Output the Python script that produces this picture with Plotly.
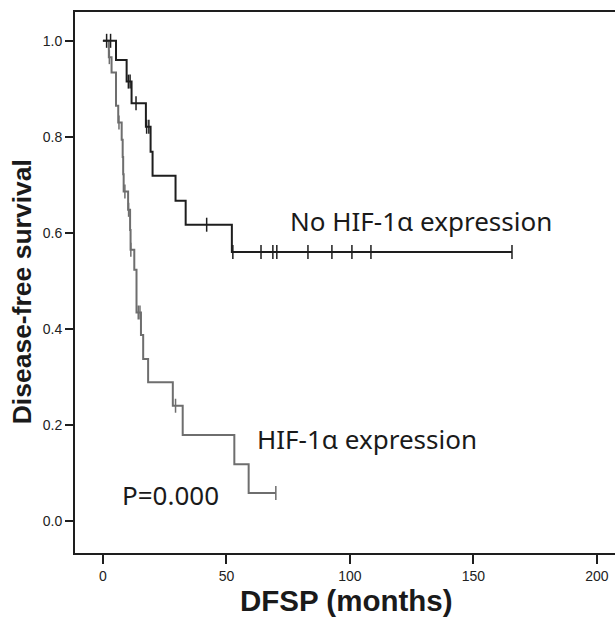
import plotly.graph_objects as go

# No HIF-1α expression group (black)
nohif_time = [0, 5.3, 9.6, 11.6, 17.4, 19.3, 20.1, 29.4, 33.5, 52.2, 165.6]
nohif_surv = [1.0, 0.960, 0.915, 0.870, 0.821, 0.769, 0.719, 0.667, 0.617, 0.560, 0.560]
nohif_cens_time = [1.5, 3.1, 10.3, 11.0, 13.4, 17.7, 18.6, 42.0, 52.6, 64.0, 68.8, 70.4, 83.0, 92.7, 100.8, 108.5, 165.6]
nohif_cens_surv = [1.0, 1.0, 0.915, 0.915, 0.870, 0.821, 0.821, 0.617, 0.560, 0.560, 0.560, 0.560, 0.560, 0.560, 0.560, 0.560, 0.560]

# HIF-1α expression group (gray)
hif_time = [0, 2.4, 3.5, 5.3, 6.2, 7.6, 8.0, 8.2, 8.4, 10.2, 11.0, 11.2, 12.7, 13.6, 15.4, 16.3, 18.3, 28.3, 32.3, 53.2, 59.0, 70.0]
hif_surv = [1.0, 0.966, 0.934, 0.865, 0.830, 0.794, 0.758, 0.722, 0.686, 0.648, 0.606, 0.565, 0.523, 0.434, 0.3875, 0.3375, 0.289, 0.240, 0.179, 0.118, 0.058, 0.058]
hif_cens_time = [2.6, 6.5, 8.9, 10.4, 11.3, 14.3, 15.0, 29.4, 70.0]
hif_cens_surv = [0.966, 0.830, 0.686, 0.648, 0.565, 0.434, 0.434, 0.240, 0.058]

x_ticks = [0, 50, 100, 150, 200]
y_ticks = [0.0, 0.2, 0.4, 0.6, 0.8, 1.0]
y_tick_text = ["0.0", "0.2", "0.4", "0.6", "0.8", "1.0"]

label_nohif = "No HIF-1α expression"
label_hif = "HIF-1α expression"
label_p = "P=0.000"
x_title = "<b>DFSP (months)</b>"
y_title = "<b>Disease-free survival</b>"

black = "#1e1e1e"
gray = "#6e6e6e"

fig = go.Figure()
fig.add_trace(go.Scatter(x=hif_time, y=hif_surv, mode="lines", line=dict(shape="hv", color=gray, width=2), showlegend=False))
fig.add_trace(go.Scatter(x=hif_cens_time, y=hif_cens_surv, mode="markers",
                         marker=dict(symbol="line-ns", size=10, line=dict(color=gray, width=1.5)), showlegend=False))
fig.add_trace(go.Scatter(x=nohif_time, y=nohif_surv, mode="lines", line=dict(shape="hv", color=black, width=2), showlegend=False))
fig.add_trace(go.Scatter(x=nohif_cens_time, y=nohif_cens_surv, mode="markers",
                         marker=dict(symbol="line-ns", size=10, line=dict(color=black, width=1.5)), showlegend=False))

txt_font = dict(family="Noto Sans", size=26, color="#1a1a1a")
fig.add_annotation(x=75.0, y=0.625, xref="x", yref="y", xanchor="left", yanchor="middle",
                   text=label_nohif, showarrow=False, font=txt_font)
fig.add_annotation(x=61.5, y=0.17, xref="x", yref="y", xanchor="left", yanchor="middle",
                   text=label_hif, showarrow=False, font=txt_font)
fig.add_annotation(x=7.0, y=0.055, xref="x", yref="y", xanchor="left", yanchor="middle",
                   text=label_p, showarrow=False, font=txt_font)

title_font = dict(family="Liberation Sans", color="#1a1a1a")
# plot area: x 75..615 px, y 12..553 px
fig.add_annotation(x=0.502, y=-0.088, xref="paper", yref="paper", xanchor="center", yanchor="middle",
                   text=x_title, showarrow=False, font=dict(size=29.5, **title_font))
fig.add_annotation(x=-0.098, y=0.482, xref="paper", yref="paper", xanchor="center", yanchor="middle",
                   text=y_title, showarrow=False, textangle=-90, font=dict(size=26.5, **title_font))

fig.update_layout(
    width=615, height=620,
    margin=dict(l=75, r=0, t=12, b=67),
    plot_bgcolor="white", paper_bgcolor="white",
    xaxis=dict(range=[-11.3, 207.3], tickvals=x_ticks, ticks="outside", ticklen=9, tickwidth=2,
               tickcolor=black, showline=True, linecolor=black, linewidth=2, mirror=True,
               showgrid=False, zeroline=False, automargin=False,
               tickfont=dict(family="Liberation Sans", size=14, color="#222")),
    yaxis=dict(range=[-0.0667, 1.06], tickvals=y_ticks, ticktext=y_tick_text, ticks="outside",
               ticklen=8, tickwidth=2, tickcolor=black, showline=True, linecolor=black, linewidth=2,
               showgrid=False, zeroline=False, automargin=False,
               tickfont=dict(family="Liberation Sans", size=14, color="#222")),
)

fig.write_html(
    "out.html",
    config={"displayModeBar": False},
    post_script="document.documentElement.style.margin='0';document.body.style.margin='0';"
                "document.documentElement.style.overflow='hidden';document.body.style.overflow='hidden';",
)
